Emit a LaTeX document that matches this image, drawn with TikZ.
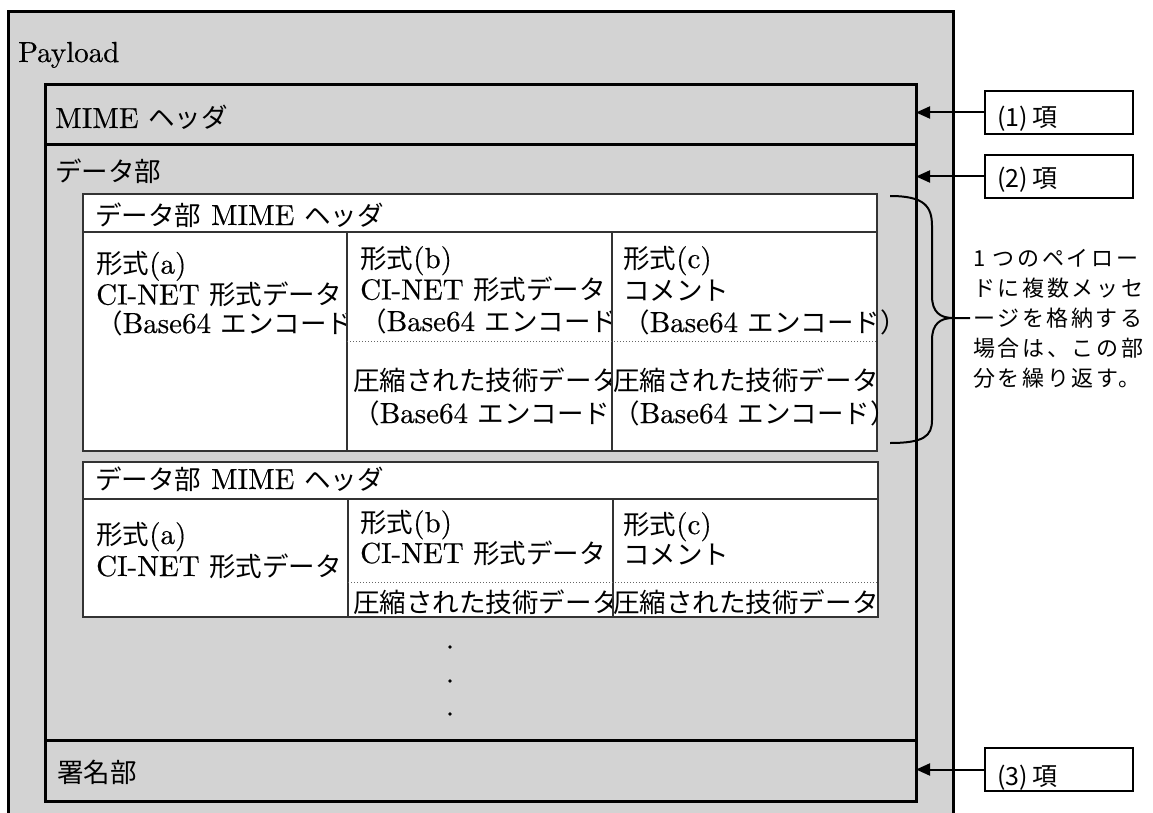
\documentclass[tikz,border=0pt]{standalone}
\usepackage{fontspec}
\setmainfont{lmroman10-regular.otf}[FakeBold=0.4]
\newfontfamily\jpfont[Scale=0.915]{Noto Sans CJK JP}
\newfontfamily\notefont[LetterSpace=12]{Noto Sans CJK JP}
\newfontfamily\lblfont{Noto Sans CJK JP}
\usetikzlibrary{arrows.meta}
\definecolor{paygray}{RGB}{211,211,211}
\newcommand{\ja}[1]{{\jpfont #1}}

\begin{document}
\begin{tikzpicture}[x=1pt, y=-1pt,
    box/.style = {draw, line width=3pt, fill=paygray, anchor=north west, inner sep=0pt, outer sep=0pt},
    cell/.style = {draw=black!80, line width=1.3pt, fill=white, anchor=north west, inner sep=0pt, outer sep=0pt},
    txt/.style = {anchor=base west, inner sep=0pt, align=left, font=\fontsize{29}{#1}\selectfont},
    txt/.default = 30,
    lblbox/.style = {draw, line width=1.5pt, fill=white, anchor=north west, inner sep=0pt, outer sep=0pt, minimum width=148pt, minimum height=43pt},
    lbltxt/.style = {anchor=base west, inner sep=0pt, font=\fontsize{25}{25}\lblfont},
    arr/.style = {-{Triangle[length=14pt, width=12pt]}, line width=2pt},
    dotline/.style = {draw=black!60, line width=0.8pt, dash pattern=on 0.8pt off 2.2pt}
  ]
  \clip (0,0) rectangle (1153,813);

  \node[box, minimum width=945pt, minimum height=840pt] (payload) at (8,12) {};
  \node[txt] (paytxt) at (18,62) {Payload};

  \node[box, minimum width=871pt, minimum height=60pt] (mime) at (45,85) {};
  \node[txt] (mimetxt) at (55,128) {MIME \ja{ヘッダ}};
  \node[box, minimum width=871pt, minimum height=595pt] (data) at (45,145) {};
  \node[txt] (datatxt) at (55,182) {\ja{データ部}};
  \node[box, minimum width=871pt, minimum height=61pt] (sign) at (45,740) {};
  \node[txt] (signtxt) at (57,782) {\ja{署名部}};

  % first message (base = last line)
  \node[cell, minimum width=794pt, minimum height=38pt] (hdA) at (83,194) {};
  \node[txt] (hdAtxt) at (95,225) {\ja{データ部} MIME \ja{ヘッダ}};
  \node[cell, minimum width=264pt, minimum height=219pt] (fa) at (83,232) {};
  \node[txt=28.5] (fatxt) at (96,333) {\ja{形式}(a)\\CI-NET \ja{形式データ}\\\ja{（}Base64 \ja{エンコード）}};
  \node[cell, minimum width=265pt, minimum height=219pt] (fb) at (347,232) {};
  \node[txt=31.5] (fbtxt) at (360,331) {\ja{形式}(b)\\CI-NET \ja{形式データ}\\\ja{（}Base64 \ja{エンコード）}};
  \node[txt=33] (fbzip) at (353,423) {\ja{圧縮された技術データ}\\\ja{（}Base64 \ja{エンコード）}};
  \node[cell, minimum width=265pt, minimum height=219pt] (fc) at (612,232) {};
  \node[txt=32] (fctxt) at (623,332) {\ja{形式}(c)\\\ja{コメント}\\\ja{（}Base64 \ja{エンコード）}};
  \node[txt=33] (fczip) at (613,423) {\ja{圧縮された技術データ}\\\ja{（}Base64 \ja{エンコード）}};
  \draw[dotline] (347,341) -- (877,341);

  % second message
  \node[cell, minimum width=795pt, minimum height=37pt] (hdB) at (83,462) {};
  \node[txt] (hdBtxt) at (95,489) {\ja{データ部} MIME \ja{ヘッダ}};
  \node[cell, minimum width=265pt, minimum height=118pt] (ga) at (83,499) {};
  \node[txt=32] (gatxt) at (96,576) {\ja{形式}(a)\\CI-NET \ja{形式データ}};
  \node[cell, minimum width=265pt, minimum height=118pt] (gb) at (348,499) {};
  \node[txt=29] (gbtxt) at (360,563) {\ja{形式}(b)\\CI-NET \ja{形式データ}};
  \node[txt] (gbzip) at (353,612) {\ja{圧縮された技術データ}};
  \node[cell, minimum width=265pt, minimum height=118pt] (gc) at (613,499) {};
  \node[txt=30] (gctxt) at (623,564) {\ja{形式}(c)\\\ja{コメント}};
  \node[txt] (gczip) at (613,612) {\ja{圧縮された技術データ}};
  \draw[dotline] (348,582) -- (878,582);

  \foreach \y in {647,681,714}
    \fill (450,\y) circle (1.8);

  % repeat brace and note
  \draw[line width=2pt] (890,196) .. controls (924,196) and (932,206) .. (932,226) -- (932,296)
    .. controls (932,312) and (940,318) .. (953,318) -- (970,318)
    (953,318) .. controls (940,318) and (932,324) .. (932,340) -- (932,420)
    .. controls (932,436) and (924,443) .. (890,443);
  \node[anchor=base west, inner sep=0pt, align=left, font=\fontsize{22}{30}\notefont] (note) at (973,386)
    {1 つのペイロー\\ドに複数メッセ\\ージを格納する\\場合は、この部\\分を繰り返す。};

  % item labels
  \node[lblbox] (lbl1) at (985,91) {};
  \node[lbltxt] (lbl1txt) at (997,127) {(1)\,項};
  \node[lblbox] (lbl2) at (985,155) {};
  \node[lbltxt] (lbl2txt) at (997,188) {(2)\,項};
  \node[lblbox] (lbl3) at (985,748) {};
  \node[lbltxt] (lbl3txt) at (997,785) {(3)\,項};
  \draw[arr] (lbl1.west) -- (lbl1.west -| mime.east);
  \draw[arr] (lbl2.west) -- (lbl2.west -| data.east);
  \draw[arr] (lbl3.west) -- (lbl3.west -| sign.east);
\end{tikzpicture}
\end{document}
